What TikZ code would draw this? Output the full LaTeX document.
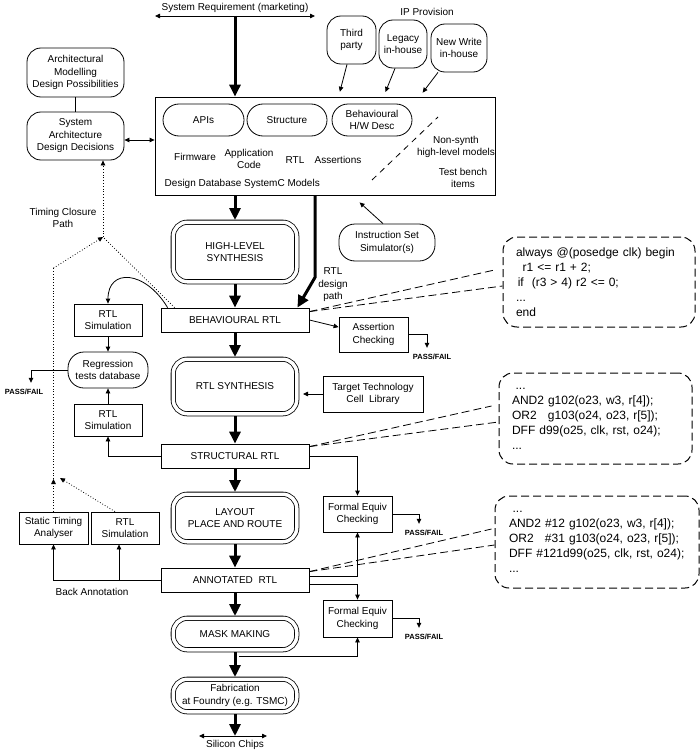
\documentclass[tikz,border=0pt]{standalone}
\usepackage{fontspec}
\setmainfont{Liberation Sans}
\usetikzlibrary{arrows.meta}

\tikzset{
  every node/.style={font=\fontsize{10}{12.5}\selectfont, align=center},
  box/.style={draw, rectangle, inner sep=1pt},
  rbox/.style={box, rounded corners=14pt},
  pill/.style={box, rounded corners=16pt},
  synth/.style={draw, double, double distance=3.5pt, rounded corners=14pt, outer sep=2.25pt},
  code/.style={draw, line width=1pt, dash pattern=on 8pt off 4pt, rounded corners=14pt, align=left,
               inner sep=0pt, font=\fontsize{12}{15}\selectfont},
  callout/.style={dash pattern=on 8pt off 4pt},
  pf/.style={font=\fontsize{7.5}{8}\selectfont\bfseries, inner sep=1pt},
  arr/.style={-{Triangle[length=5pt,width=4.5pt]}},
  arr2/.style={{Triangle[length=5pt,width=4.5pt]}-{Triangle[length=5pt,width=4.5pt]}},
  fat/.style={line width=3pt, -{Triangle[length=12pt,width=11pt]}},
  tc/.style={dotted}
}

\begin{document}
\begin{tikzpicture}[x=1pt, y=-1pt, line width=0.8pt]
   \useasboundingbox (0,0) rectangle (700,752);

   % requirement and IP provision
   \node (sysreq) at (235,8) {System Requirement (marketing)};
   \coordinate (reqL) at (155,16);
   \coordinate (reqM) at (235,16);
   \coordinate (reqR) at (315,16);
   \node (ip) at (427,12) {IP Provision};
   \node[rbox, minimum width=49pt, minimum height=48pt] (third) at (351.5,40) {Third\\party};
   \node[rbox, minimum width=48pt, minimum height=48pt] (legacy) at (403,44) {Legacy\\in-house};
   \node[rbox, minimum width=56pt, minimum height=48pt] (newwrite) at (459,48) {New Write\\in-house};

   % design database
   \node[box, minimum width=340pt, minimum height=98pt] (db) at (325,146) {};
   \node[pill, minimum width=81pt, minimum height=32pt] (apis) at (203.5,120) {APIs};
   \node[pill, minimum width=80pt, minimum height=32pt] (struct) at (287,120) {Structure};
   \node[pill, minimum width=80pt, minimum height=32pt] (behdesc) at (372,120) {Behavioural\\H/W Desc};
   \node (firmware) at (195,157) {Firmware};
   \node (appcode) at (249,159) {Application\\Code};
   \node (rtltxt) at (295,160) {RTL};
   \node (assert) at (338,160) {Assertions};
   \node[anchor=west] (dbname) at (161,184) {Design Database SystemC Models};
   \draw[dash pattern=on 6pt off 5pt] (372,180) -- (438,117);
   \node (nonsynth) at (456,147) {Non-synth\\high-level models};
   \node (testbench) at (463,178) {Test bench\\items};
   \node[pill, minimum width=96pt, minimum height=37pt] (iss) at (387,242.5) {Instruction Set\\Simulator(s)};

   % architecture
   \node[rbox, minimum width=97pt, minimum height=49pt] (archmod) at (75.5,72.5) {Architectural\\Modelling\\Design Possibilities};
   \node[rbox, minimum width=97pt, minimum height=48pt] (sysarch) at (75.5,136) {System\\Architecture\\Design Decisions};
   \coordinate (saE) at ([yshift=-4pt]sysarch.east);

   % main flow
   \node[synth, minimum width=123.5pt, minimum height=59.5pt] (hls) at (235,252) {HIGH-LEVEL\\SYNTHESIS};
   \node[box, minimum width=148pt, minimum height=24pt] (behrtl) at (235,320) {BEHAVIOURAL RTL};
   \node[synth, minimum width=123.5pt, minimum height=54.5pt] (rtlsyn) at (235,386.5) {RTL SYNTHESIS};
   \node[box, minimum width=148pt, minimum height=24pt] (strrtl) at (235,456) {STRUCTURAL RTL};
   \node[synth, minimum width=123.5pt, minimum height=47.5pt] (layout) at (235,518) {LAYOUT\\PLACE AND ROUTE};
   \node[box, minimum width=148pt, minimum height=24pt] (annrtl) at (235,580) {ANNOTATED\ \ RTL};
   \node[synth, minimum width=123.5pt, minimum height=31.5pt] (mask) at (235,634) {MASK MAKING};
   \node[synth, minimum width=123.5pt, minimum height=32.5pt] (fab) at (235,695.5) {Fabrication\\at Foundry (e.g. TSMC)};
   \node (chips) at (235,745) {Silicon Chips};
   \coordinate (chipL) at (199,736);
   \coordinate (chipM) at (235,736);
   \coordinate (chipR) at (267,736);
   \node (rtlpath) at (333,285) {RTL\\design\\path};

   % checking
   \node[box, minimum width=69pt, minimum height=35pt] (asrt) at (373.5,334.5) {Assertion\\Checking};
   \node[box, minimum width=100pt, minimum height=36pt] (target) at (373,394) {Target Technology\\Cell\ \ Library};
   \node[box, minimum width=69pt, minimum height=36pt] (fe1) at (357.5,514) {Formal Equiv\\Checking};
   \node[box, minimum width=69pt, minimum height=37pt] (fe2) at (357.5,618.5) {Formal Equiv\\Checking};
   \node[pf] (pf1) at (432,357) {PASS/FAIL};
   \node[pf] (pf2) at (424,533) {PASS/FAIL};
   \node[pf] (pf3) at (424,637) {PASS/FAIL};

   % simulation side
   \node[box, minimum width=68pt, minimum height=32pt] (sim1) at (108,320) {RTL\\Simulation};
   \node[pill, minimum width=80pt, minimum height=36pt] (regr) at (108,370) {Regression\\tests database};
   \node[box, minimum width=68pt, minimum height=32pt] (sim2) at (108,420) {RTL\\Simulation};
   \node[pf] (pf0) at (24,392) {PASS/FAIL};
   \node[box, minimum width=69pt, minimum height=32pt] (sta) at (53.5,528) {Static Timing\\Analyser};
   \node[box, minimum width=68pt, minimum height=32pt] (sim3) at (125,528) {RTL\\Simulation};
   \node (backann) at (92,592) {Back Annotation};
   \coordinate (ba) at (119,580);
   \node (tcpath) at (63,218) {Timing Closure\\Path};
   \coordinate (tcA) at (53.5,268);
   \coordinate (tcB) at (103,237);
   \coordinate (tcM) at (53.5,479);
   \coordinate (tcS) at (60,478);

   % code examples
   \node[code, minimum width=192pt, minimum height=90pt, text width=166pt] (code1) at (599,282)
     {always @(posedge clk) begin\\
      \hspace*{0.55em}r1 <= r1 + 2;\\
      \hspace*{0.15em}if\ \ (r3 > 4) r2 <= 0;\\
      ...\\
      end};
   \node[code, minimum width=193pt, minimum height=91pt, text width=167pt] (code2) at (595.5,418.5)
     {\hspace*{0.3em}...\\
      AND2 g102(o23, w3, r[4]);\\
      OR2\hspace{0.61em} g103(o24, o23, r[5]);\\
      DFF d99(o25, clk, rst, o24);\\
      ...};
   \node[code, minimum width=204pt, minimum height=92pt, text width=176pt] (code3) at (597,542)
     {\hspace*{0.3em}...\\
      AND2 \#12 g102(o23, w3, r[4]);\\
      OR2\hspace{0.61em} \#31 g103(o24, o23, r[5]);\\
      DFF \#121d99(o25, clk, rst, o24);\\
      ...};

   % connectors
   \draw[arr] (reqM) -- (reqL);
   \draw[arr] (reqM) -- (reqR);
   \draw[fat] (reqM) -- (reqM |- db.north);
   \draw[arr, shorten >=5pt] ([xshift=-4.5pt]third.south) -- ([xshift=184pt]db.north west);
   \draw[arr, shorten >=5pt] ([xshift=-8pt]legacy.south) -- ([xshift=229pt]db.north west);
   \draw[arr, shorten >=5pt] ([xshift=-21pt]newwrite.south) -- ([xshift=265pt]db.north west);
   \draw (archmod) -- (sysarch);
   \draw[arr2] (saE) -- (saE -| db.west);
   \draw[arr] ([xshift=-4pt]iss.north) -- ([xshift=205pt,yshift=-7pt]db.south west);

   \draw[fat] (hls.north |- db.south) -- (hls.north);
   \draw[fat] (hls.south) -- (behrtl.north);
   \draw[fat] (behrtl.south) -- (rtlsyn.north);
   \draw[fat] (rtlsyn.south) -- (strrtl.north);
   \draw[fat] (strrtl.south) -- (layout.north);
   \draw[fat] (layout.south) -- (annrtl.north);
   \draw[fat] (annrtl.south) -- (mask.north);
   \draw[fat] (mask.south) -- (fab.north);
   \draw[fat] (fab.south) -- (chipM);
   \draw[arr] (chipM) -- (chipL);
   \draw[arr] (chipM) -- (chipR);
   \draw[fat] ([xshift=-10pt]db.south) -- ++(0,82) -- ([xshift=-12pt]behrtl.north east);

   \draw[arr] (behrtl.east) -- (asrt.168);
   \draw[arr] (asrt.east) -| ([xshift=-5pt,yshift=5pt]pf1.north);
   \draw[arr, shorten >=4pt] (target.west) -- (target.west -| rtlsyn.east);
   \draw[arr] (strrtl.east) -| (fe1.north);
   \draw[arr] (fe1.east) -| ([xshift=-5pt,yshift=5pt]pf2.north);
   \draw[arr] ([yshift=4pt]annrtl.east) -| (fe1.south);
   \draw[arr] ([yshift=-4pt]annrtl.east) -| (fe2.north);
   \draw[arr] (fe2.east) -| ([xshift=-5pt,yshift=5pt]pf3.north);
   \draw[arr] ([xshift=4pt,yshift=-4pt]mask.south) -| (fe2.south);

   \draw[arr] ([xshift=7pt]behrtl.north west) .. controls (145,270) and (108,268) .. (sim1.north);
   \draw[arr] (sim1) -- (regr);
   \draw[arr] (sim2) -- (regr);
   \draw[arr] (regr.west) -| ([xshift=7pt,yshift=5pt]pf0.north);
   \draw[arr] (strrtl.west) -| (sim2.south);
   \draw[arr] (annrtl.west) -| (sta.south);
   \draw[arr] (ba) -- (ba |- sim3.south);

   \draw[tc, arr] (sta.north) -- (tcM);
   \draw[tc] (tcM) -- (tcA);
   \draw[tc, arr] (tcA) -- (tcB);
   \draw[tc, arr] (tcB) -- (tcB |- sysarch.south);
   \draw[tc] ([xshift=14pt]behrtl.north west) -- (tcB);
   \draw[tc, arr] ([xshift=-10pt]sim3.north) -- (tcS);

   \draw[callout] ([yshift=-4pt]behrtl.north east) -- ([xshift=-8pt,yshift=12pt]code1.west);
   \draw[callout] ([yshift=-4pt]behrtl.north east) -- ([yshift=-4pt]code1.west);
   \draw[callout] ([yshift=-3pt]strrtl.north east) -- ([xshift=-7pt,yshift=12.5pt]code2.west);
   \draw[callout] ([yshift=-3pt]strrtl.north east) -- ([yshift=-3.5pt]code2.west);
   \draw[callout] ([yshift=-4pt]annrtl.north east) -- ([xshift=-3pt,yshift=13pt]code3.west);
   \draw[callout] ([yshift=-4pt]annrtl.north east) -- ([yshift=-3pt]code3.west);
\end{tikzpicture}
\end{document}
